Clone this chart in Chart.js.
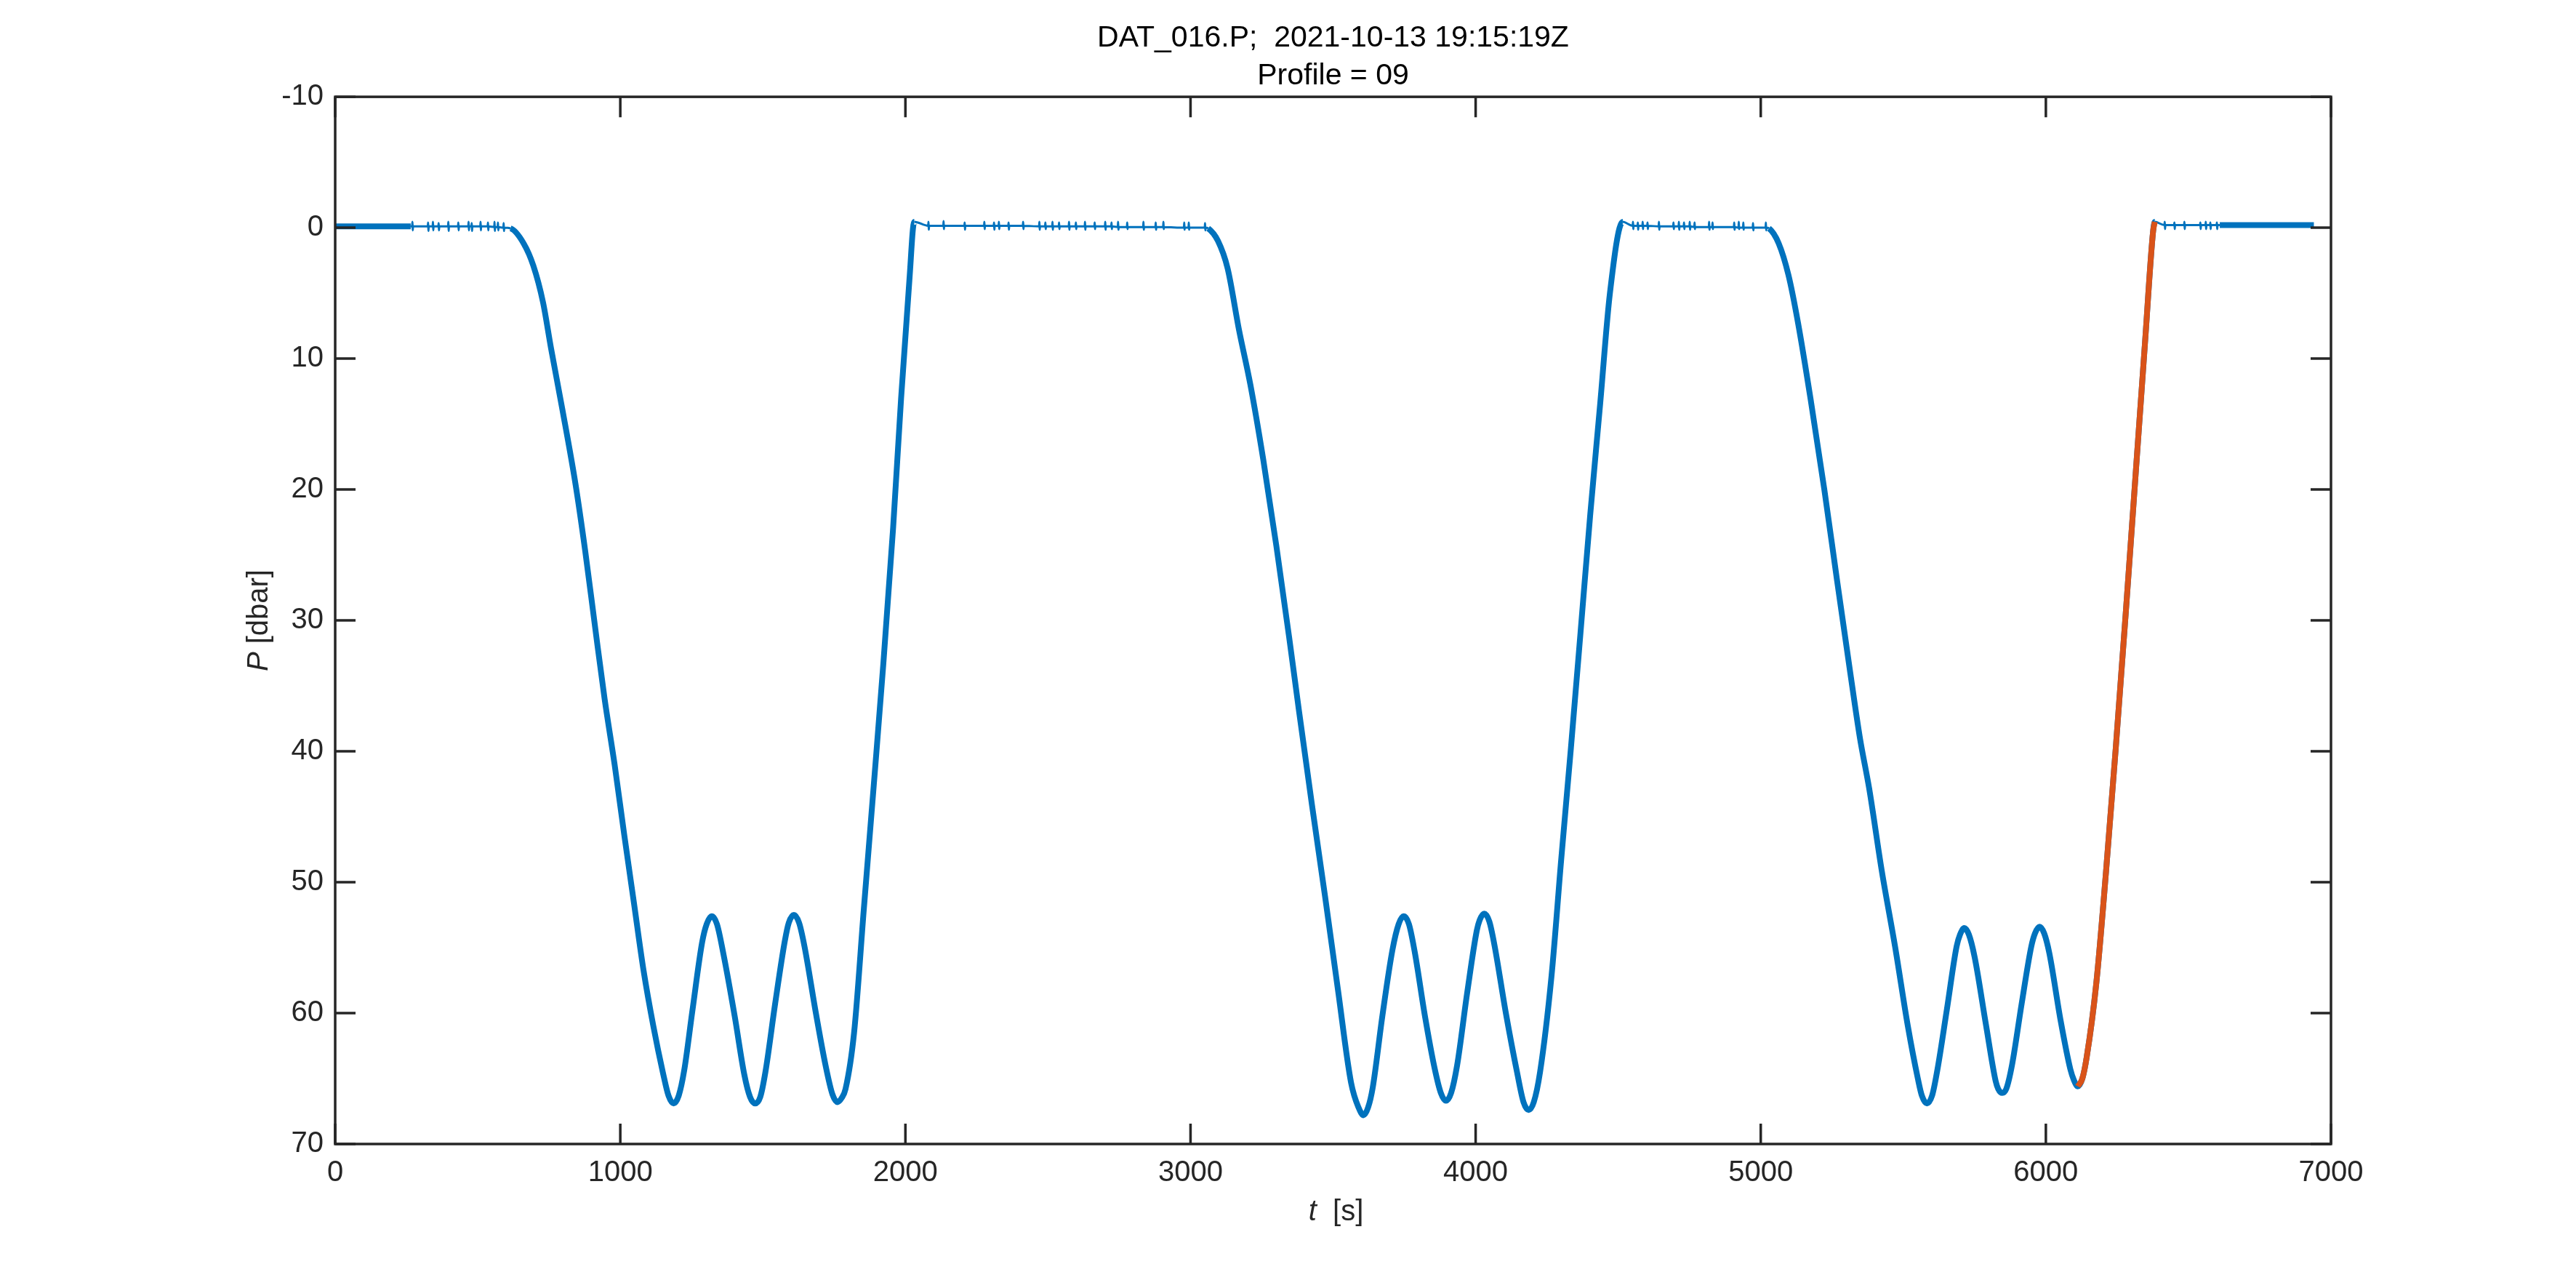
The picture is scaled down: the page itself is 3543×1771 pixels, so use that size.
<!DOCTYPE html>
<html>
<head>
<meta charset="utf-8">
<title>DAT_016.P</title>
<script src="https://cdn.jsdelivr.net/npm/chart.js@4.4.1/dist/chart.umd.min.js"></script>
<style>
  html, body { margin: 0; padding: 0; background: #fff; }
  #wrap { width: 3543px; height: 1771px; }
</style>
</head>
<body>
<div id="wrap"><canvas id="pressure" width="3543" height="1771"></canvas></div>
<script>
// whole record, t [s] and P [dbar]
const blueTime = [
  // surface
  0, 120, 265,
  270, 271, 272, 273, 325, 326, 327, 328, 342, 343, 344, 345,
  362, 363, 364, 365, 396, 397, 398, 399, 431, 432, 433, 434,
  467, 468, 469, 470, 478, 479, 480, 481, 509, 510, 511, 512,
  535, 536, 537, 538, 558, 559, 560, 561, 570, 571, 572, 573,
  590, 591, 592, 593, 615,
  // dive 1
  661, 695, 729, 757, 797, 843, 877, 911, 945, 980, 1014, 1048, 1082, 1116, 1150,
  1169, 1187, 1205, 1224, 1253, 1287, 1303, 1321, 1339, 1361, 1401, 1435,
  1455, 1473, 1491, 1509, 1543, 1577, 1591, 1609, 1627, 1646, 1686, 1720,
  1744, 1762, 1776, 1790, 1820, 1854, 1889, 1923, 1957, 1985, 2014, 2031,
  // surface
  2080, 2081, 2082, 2083, 2133, 2134, 2135, 2136, 2207, 2208, 2209, 2210,
  2276, 2277, 2278, 2279, 2310, 2311, 2312, 2313, 2327, 2328, 2329, 2330,
  2361, 2362, 2363, 2364, 2412, 2413, 2414, 2415, 2469, 2470, 2471, 2472,
  2490, 2491, 2492, 2493, 2515, 2516, 2517, 2518, 2538, 2539, 2540, 2541,
  2573, 2574, 2575, 2576, 2597, 2598, 2599, 2600, 2629, 2630, 2631, 2632,
  2663, 2664, 2665, 2666, 2700, 2701, 2702, 2703, 2722, 2723, 2724, 2725,
  2745, 2746, 2747, 2748, 2777, 2778, 2779, 2780, 2834, 2835, 2836, 2837,
  2877, 2878, 2879, 2880, 2904, 2905, 2906, 2907, 2977, 2978, 2979, 2980,
  2993, 2994, 2995, 2996, 3050, 3051, 3052, 3053, 3062,
  // dive 2
  3096, 3130, 3170, 3210, 3255, 3301, 3346, 3381, 3426, 3472, 3517, 3563,
  3589, 3607, 3623, 3639, 3673, 3708, 3730, 3748, 3766, 3787, 3822, 3856,
  3878, 3896, 3914, 3935, 3970, 4004, 4014, 4030, 4048, 4066, 4106, 4146,
  4168, 4186, 4204, 4226, 4266, 4300, 4334, 4368, 4402, 4437, 4471, 4516,
  // surface
  4551, 4552, 4553, 4554, 4568, 4569, 4570, 4571, 4585, 4586, 4587, 4588,
  4602, 4603, 4604, 4605, 4642, 4643, 4644, 4645, 4693, 4694, 4695, 4696,
  4712, 4713, 4714, 4715, 4730, 4731, 4732, 4733, 4750, 4751, 4752, 4753,
  4767, 4768, 4769, 4770, 4818, 4819, 4820, 4821, 4830, 4831, 4832, 4833,
  4906, 4907, 4908, 4909, 4922, 4923, 4924, 4925, 4938, 4939, 4940, 4941,
  4972, 4973, 4974, 4975, 5017, 5018, 5019, 5020, 5029,
  // dive 3
  5063, 5097, 5131, 5177, 5223, 5268, 5314, 5348, 5380, 5425, 5471, 5516, 5551,
  5565, 5583, 5601, 5619, 5653, 5687, 5699, 5714, 5730, 5750, 5790, 5824,
  5833, 5847, 5861, 5881, 5915, 5949, 5962, 5978, 5994, 6012, 6052, 6086, 6098, 6112,
  // profile ascent (under the orange trace)
  6128, 6143, 6177, 6211, 6245, 6280, 6314, 6348, 6376, 6382,
  // surface
  6416, 6417, 6418, 6419, 6450, 6451, 6452, 6453, 6485, 6486, 6487, 6488,
  6541, 6542, 6543, 6544, 6560, 6561, 6562, 6563, 6576, 6577, 6578, 6579,
  6599, 6600, 6601, 6602, 6610, 6940
];
const bluePressure = [
  -0.1, -0.1, -0.1,
  -0.1, -0.45, 0.2, -0.1, -0.1, -0.4, 0.25, -0.1, -0.1, -0.45, 0.2, -0.1,
  -0.1, -0.35, 0.2, -0.1, -0.1, -0.45, 0.25, -0.1, -0.1, -0.4, 0.2, -0.1,
  -0.1, -0.45, 0.2, -0.1, -0.1, -0.35, 0.25, -0.1, -0.1, -0.45, 0.2, -0.1,
  -0.1, -0.4, 0.2, -0.1, -0.05, -0.45, 0.25, -0.05, -0.05, -0.4, 0.2, -0.05,
  0.0, -0.35, 0.25, 0.0, 0.05,
  1.2, 2.9, 5.7, 9.2, 13.9, 19.6, 24.7, 30.4, 36.0, 41.0, 46.4, 51.6, 56.8, 61.0, 64.6,
  66.3, 66.9, 66.3, 64.4, 59.8, 54.6, 53.2, 52.6, 53.2, 55.4, 60.2, 64.7,
  66.4, 66.9, 66.4, 64.5, 59.3, 54.5, 53.1, 52.5, 53.1, 54.9, 60.0, 64.0,
  66.2, 66.8, 66.5, 65.8, 61.5, 52.1, 42.6, 33.2, 22.9, 13.0, 4.0, -0.45,
  -0.15, -0.45, 0.15, -0.15, -0.15, -0.5, 0.1, -0.15, -0.15, -0.4, 0.15, -0.15,
  -0.15, -0.45, 0.1, -0.15, -0.15, -0.4, 0.15, -0.15, -0.15, -0.45, 0.1, -0.15,
  -0.15, -0.4, 0.15, -0.15, -0.15, -0.45, 0.1, -0.15, -0.1, -0.45, 0.15, -0.1,
  -0.1, -0.4, 0.1, -0.1, -0.1, -0.45, 0.15, -0.1, -0.1, -0.4, 0.1, -0.1,
  -0.1, -0.45, 0.15, -0.1, -0.1, -0.4, 0.1, -0.1, -0.1, -0.45, 0.15, -0.1,
  -0.1, -0.4, 0.1, -0.1, -0.1, -0.45, 0.15, -0.1, -0.1, -0.4, 0.1, -0.1,
  -0.05, -0.45, 0.15, -0.05, -0.05, -0.4, 0.1, -0.05, -0.05, -0.45, 0.15, -0.05,
  -0.05, -0.4, 0.15, -0.05, -0.05, -0.45, 0.1, -0.05, 0.0, -0.4, 0.15, 0.0,
  0.0, -0.4, 0.15, 0.0, 0.0, -0.35, 0.2, 0.0, 0.05,
  1.0, 3.1, 7.8, 12.0, 17.7, 24.3, 31.3, 37.0, 44.1, 51.1, 58.2, 65.3,
  67.2, 67.8, 67.2, 65.7, 60.2, 55.2, 53.2, 52.6, 53.2, 55.4, 60.2, 64.2,
  66.1, 66.7, 66.1, 64.0, 58.5, 53.7, 52.9, 52.4, 53.0, 54.8, 60.0, 64.6,
  66.8, 67.4, 66.8, 64.5, 57.2, 48.3, 39.8, 30.9, 21.9, 13.4, 5.0, -0.45,
  -0.15, -0.45, 0.1, -0.15, -0.15, -0.4, 0.15, -0.15, -0.15, -0.45, 0.1, -0.15,
  -0.15, -0.4, 0.1, -0.15, -0.1, -0.45, 0.15, -0.1, -0.1, -0.4, 0.1, -0.1,
  -0.1, -0.45, 0.15, -0.1, -0.1, -0.4, 0.1, -0.1, -0.1, -0.45, 0.15, -0.1,
  -0.05, -0.4, 0.1, -0.05, -0.05, -0.45, 0.15, -0.05, -0.05, -0.4, 0.1, -0.05,
  -0.05, -0.4, 0.15, -0.05, 0.0, -0.45, 0.1, 0.0, 0.0, -0.4, 0.15, 0.0,
  0.0, -0.35, 0.2, 0.0, 0.0, -0.4, 0.2, 0.0, 0.05,
  1.2, 3.6, 7.3, 13.4, 20.0, 27.0, 34.0, 39.0, 42.8, 49.2, 54.9, 61.0, 65.0,
  66.3, 66.9, 66.3, 64.4, 59.7, 54.9, 54.0, 53.5, 54.0, 55.7, 60.9, 65.2,
  65.8, 66.1, 65.8, 64.0, 59.3, 54.9, 53.9, 53.4, 53.9, 55.4, 60.6, 64.3, 65.1, 65.6,
  65.0, 63.4, 57.7, 49.2, 39.8, 29.5, 19.1, 8.7, 0.3, -0.45,
  -0.2, -0.45, 0.1, -0.2, -0.2, -0.4, 0.1, -0.2, -0.2, -0.45, 0.1, -0.2,
  -0.2, -0.4, 0.1, -0.2, -0.2, -0.45, 0.1, -0.2, -0.2, -0.4, 0.1, -0.2,
  -0.2, -0.4, 0.1, -0.2, -0.2, -0.2
];

// profile 09, the ascent drawn on top
const profileTime = [6112, 6128, 6143, 6177, 6211, 6245, 6280, 6314, 6348, 6376, 6382];
const profilePressure = [65.6, 65.0, 63.4, 57.7, 49.2, 39.8, 29.5, 19.1, 8.7, 0.3, -0.45];

const xTicks = [0, 1000, 2000, 3000, 4000, 5000, 6000, 7000];
const yTicks = [-10, 0, 10, 20, 30, 40, 50, 60, 70];

const titleLines = ["DAT_016.P;  2021-10-13 19:15:19Z", "Profile = 09"];

// surface stretches where the trace is drawn thin
const thinSpans = [[265, 615], [2031, 3062], [4516, 5029], [6382, 6610]];

const axisColor = "#262626";
const fontFamily = "'Liberation Sans', Arial, Helvetica, sans-serif";
const tickLen = 28;

const isThin = (i0, i1) =>
  thinSpans.some(([a, b]) => blueTime[i0] >= a && blueTime[i1] <= b);

const blueData = blueTime.map((t, i) => ({ x: t, y: bluePressure[i] }));
const profileData = profileTime.map((t, i) => ({ x: t, y: profilePressure[i] }));

// box, inward ticks and axis titles, matlab style
const boxPlugin = {
  id: "boxPlugin",
  afterDraw(chart) {
    const { ctx, chartArea: a, scales } = chart;
    ctx.save();
    ctx.strokeStyle = axisColor;
    ctx.lineWidth = 3.5;
    ctx.beginPath();
    xTicks.forEach((v) => {
      const px = scales.x.getPixelForValue(v);
      ctx.moveTo(px, a.bottom);
      ctx.lineTo(px, a.bottom - tickLen);
      ctx.moveTo(px, a.top);
      ctx.lineTo(px, a.top + tickLen);
    });
    yTicks.forEach((v) => {
      const py = scales.y.getPixelForValue(v);
      ctx.moveTo(a.left, py);
      ctx.lineTo(a.left + tickLen, py);
      ctx.moveTo(a.right, py);
      ctx.lineTo(a.right - tickLen, py);
    });
    ctx.stroke();
    ctx.strokeRect(a.left, a.top, a.right - a.left, a.bottom - a.top);

    // axis titles: italic symbol + upright unit
    const drawLabel = (sym, unit, cx, cy, rot) => {
      ctx.save();
      ctx.translate(cx, cy);
      ctx.rotate(rot);
      ctx.fillStyle = axisColor;
      ctx.textBaseline = "middle";
      ctx.textAlign = "left";
      const italic = "italic 40px " + fontFamily;
      const upright = "40px " + fontFamily;
      ctx.font = italic;
      const w1 = ctx.measureText(sym).width;
      ctx.font = upright;
      const w2 = ctx.measureText(unit).width;
      const x0 = -(w1 + w2) / 2;
      ctx.font = italic;
      ctx.fillText(sym, x0, 0);
      ctx.font = upright;
      ctx.fillText(unit, x0 + w1, 0);
      ctx.restore();
    };
    drawLabel("t", "  [s]", (a.left + a.right) / 2 + 4, 1667, 0);
    drawLabel("P", " [dbar]", 357, (a.top + a.bottom) / 2, -Math.PI / 2);
    ctx.restore();
  },
};

const ctx = document.getElementById("pressure").getContext("2d");

new Chart(ctx, {
  type: "line",
  data: {
    datasets: [
      {
        label: "profile",
        data: profileData,
        borderColor: "#D95319",
        borderWidth: 8,
        pointRadius: 0,
        cubicInterpolationMode: "monotone",
      },
      {
        label: "P",
        data: blueData,
        borderColor: "#0072BD",
        borderWidth: 8,
        pointRadius: 0,
        cubicInterpolationMode: "monotone",
        segment: {
          borderWidth: (c) => (isThin(c.p0DataIndex, c.p1DataIndex) ? 3 : 8),
        },
      },
    ],
  },
  options: {
    responsive: false,
    animation: false,
    devicePixelRatio: 1,
    layout: { padding: { left: 0, right: 337, top: 0, bottom: 0 } },
    plugins: {
      legend: { display: false },
      tooltip: { enabled: false },
      title: {
        display: true,
        fullSize: false,
        text: titleLines,
        color: "#000",
        font: { family: fontFamily, size: 41, weight: "normal", lineHeight: 1.27 },
        padding: { top: 27, bottom: 2 },
      },
    },
    scales: {
      x: {
        type: "linear",
        min: 0,
        max: 7000,
        afterFit: (s) => { s.height = 198; },
        afterBuildTicks: (s) => { s.ticks = xTicks.map((v) => ({ value: v })); },
        grid: { display: false, drawTicks: false },
        border: { display: false },
        ticks: {
          color: axisColor,
          padding: 16,
          maxRotation: 0,
          font: { family: fontFamily, size: 40 },
          callback: (v) => String(v),
        },
      },
      y: {
        type: "linear",
        min: -10,
        max: 70,
        reverse: true,
        afterFit: (s) => { s.width = 461; },
        afterBuildTicks: (s) => { s.ticks = yTicks.map((v) => ({ value: v })); },
        grid: { display: false, drawTicks: false },
        border: { display: false },
        ticks: {
          color: axisColor,
          padding: 16,
          font: { family: fontFamily, size: 40 },
          callback: (v) => String(v),
        },
      },
    },
  },
  plugins: [boxPlugin],
});
</script>
</body>
</html>
